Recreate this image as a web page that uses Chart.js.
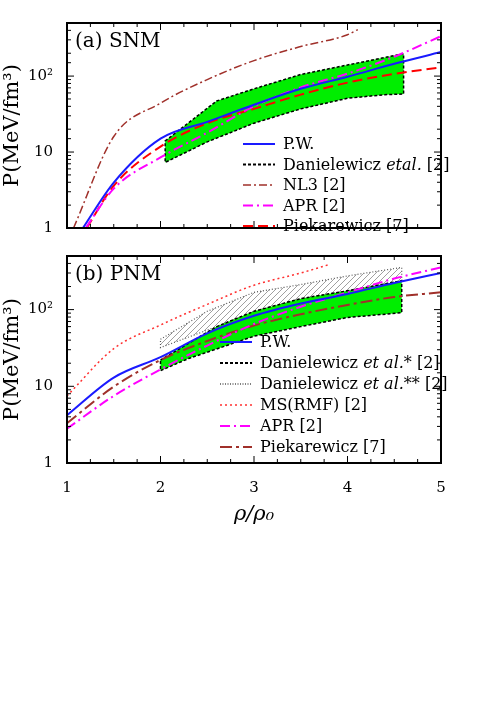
<!DOCTYPE html>
<html><head><meta charset="utf-8">
<script src="https://cdn.jsdelivr.net/npm/chart.js@4"></script>
<style>body{margin:0;background:#fff;width:485px;height:705px;position:relative;overflow:hidden}
canvas{position:absolute;left:0}</style></head>
<body>
<div style="position:absolute;left:0;top:0;width:485px;height:243px"><canvas id="ca"></canvas></div>
<div style="position:absolute;left:0;top:241px;width:485px;height:290px"><canvas id="cb"></canvas></div>
<script>
// ---- Panel (a) SNM ----
const xsGrid = [1, 1.5, 2, 2.5, 3, 3.5, 4, 4.5, 5];
const aPW_x = [1.17, 1.5, 2, 2.5, 3, 3.5, 4, 4.5, 5];
const aPW_y = [1, 3.96, 15, 25, 42, 68, 98, 145, 207];
const aNL3_x = [1.07, 1.5, 2, 2.5, 3, 3.5, 4, 4.11];
const aNL3_y = [1, 16, 44, 90, 160, 245, 350, 410];
const aAPR_x = [1.2, 1.5, 2, 2.5, 3, 3.5, 4, 4.5, 5];
const aAPR_y = [1, 3.3, 8.5, 18, 40, 71, 108, 180, 335];
const aPiek_x = [1.21, 1.5, 2, 2.5, 3, 3.5, 4, 4.5, 5];
const aPiek_y = [1, 3.6, 11.8, 24, 37, 57, 82, 107, 130];
const aBandUp_x = [2.05, 2.6, 3, 3.5, 4, 4.6];
const aBandUp_y = [14, 47, 68, 105, 140, 197];
const aBandLo_x = [2.05, 2.5, 3, 3.5, 4, 4.4, 4.6];
const aBandLo_y = [7.3, 13.6, 24, 37, 51, 57, 58];
// ---- Panel (b) PNM ----
const bPW_x = [1, 1.5, 2, 2.5, 3, 3.5, 4, 4.5, 5];
const bPW_y = [4.2, 13, 24, 49, 83, 120, 160, 222, 300];
const bMS_x = [1, 1.5, 2, 2.5, 3, 3.5, 3.8];
const bMS_y = [7.5, 31, 63, 117, 208, 300, 385];
const bAPR_x = [1, 1.5, 2, 2.5, 3, 3.5, 4, 4.5, 5];
const bAPR_y = [2.8, 7.5, 16.6, 34, 65, 109, 167, 254, 355];
const bPiek_x = [1, 1.5, 2, 2.5, 3, 3.5, 4, 4.5, 5];
const bPiek_y = [3.3, 9.9, 22, 39, 62, 87, 115, 146, 168];
const bBandUp_x = [2, 2.6, 3, 3.5, 4, 4.58];
const bBandUp_y = [22, 60, 95, 139, 176, 238];
const bBandLo_x = [2, 2.3, 3, 3.5, 4, 4.58];
const bBandLo_y = [16, 23, 45, 60, 79, 91];
const bHatchUp_x = [2, 2.5, 3, 3.5, 4, 4.58];
const bHatchUp_y = [41, 95, 168, 212, 275, 355];
const bHatchLo_x = [2, 2.6, 3, 3.5, 4, 4.58];
const bHatchLo_y = [32, 60, 95, 139, 176, 238];
const xTicks = [1, 2, 3, 4, 5];
const yTickLabels = {1: '1', 10: '10', 100: '10²'};

const SERIF = '"DejaVu Serif","Liberation Serif",serif';
const pts = (xs, ys) => xs.map((x, i) => ({x, y: ys[i]}));
const hatch = (() => {
  const c = document.createElement('canvas'); c.width = 6; c.height = 6;
  const g = c.getContext('2d'); g.strokeStyle = '#888'; g.lineWidth = 0.8;
  g.beginPath(); g.moveTo(0, 6); g.lineTo(6, 0); g.moveTo(-1, 1); g.lineTo(1, -1); g.moveTo(5, 7); g.lineTo(7, 5); g.stroke();
  return g.createPattern(c, 'repeat');
})();

function line(label, xs, ys, color, dash, w) {
  return {label, data: pts(xs, ys), borderColor: color, borderDash: dash, borderWidth: w || 1.8,
    pointRadius: 0, tension: 0.4, cubicInterpolationMode: 'monotone', fill: false};
}

const bandPlugin = {
  id: 'bands',
  beforeDatasetsDraw(chart, args, opts) {
    const ctx = chart.ctx, xs = chart.scales.x, ys = chart.scales.y, a = chart.chartArea;
    ctx.save(); ctx.beginPath(); ctx.rect(a.left, a.top, a.right - a.left, a.bottom - a.top); ctx.clip();
    for (const b of opts.bands) {
      const P = [];
      b.ux.forEach((x, i) => P.push([xs.getPixelForValue(x), ys.getPixelForValue(b.uy[i])]));
      for (let i = b.lx.length - 1; i >= 0; i--) P.push([xs.getPixelForValue(b.lx[i]), ys.getPixelForValue(b.ly[i])]);
      ctx.beginPath(); P.forEach((p, i) => i ? ctx.lineTo(p[0], p[1]) : ctx.moveTo(p[0], p[1])); ctx.closePath();
      ctx.fillStyle = b.fill === 'hatch' ? hatch : b.fill; ctx.fill();
      ctx.setLineDash(b.dash); ctx.strokeStyle = b.stroke; ctx.lineWidth = b.lw; ctx.stroke();
    }
    ctx.restore();
  }
};

const framePlugin = {
  id: 'frame',
  afterDraw(chart, args, opts) {
    const ctx = chart.ctx, a = chart.chartArea, xs = chart.scales.x, ys = chart.scales.y;
    ctx.save(); ctx.strokeStyle = '#000'; ctx.setLineDash([]);
    ctx.lineWidth = 1;
    for (let v = 1; v <= 5.001; v += 0.25) {
      const px = xs.getPixelForValue(v), L = Math.abs(v - Math.round(v)) < 1e-6 ? 7 : 4;
      ctx.beginPath(); ctx.moveTo(px, a.bottom); ctx.lineTo(px, a.bottom - L); ctx.moveTo(px, a.top); ctx.lineTo(px, a.top + L); ctx.stroke();
    }
    for (const t of ys.ticks) {
      const py = ys.getPixelForValue(t.value);
      if (py < a.top - 0.5) continue;
      const L = yTickLabels[t.value] ? 7 : 4;
      ctx.beginPath(); ctx.moveTo(a.left, py); ctx.lineTo(a.left + L, py); ctx.moveTo(a.right, py); ctx.lineTo(a.right - L, py); ctx.stroke();
    }
    ctx.lineWidth = 2; ctx.strokeRect(a.left, a.top, a.right - a.left, a.bottom - a.top);
    ctx.fillStyle = '#000'; ctx.font = '20px ' + SERIF; ctx.textBaseline = 'alphabetic';
    ctx.fillText(opts.panel, a.left + 8, a.top + 24);
    // legend
    const L = opts.legend; let y = L.y;
    ctx.font = '16px ' + SERIF;
    for (const it of L.items) {
      ctx.beginPath(); ctx.setLineDash(it.dash); ctx.strokeStyle = it.color; ctx.lineWidth = it.w;
      ctx.moveTo(L.x, y); ctx.lineTo(L.x + 32, y); ctx.stroke();
      ctx.setLineDash([]); ctx.textBaseline = 'middle'; let tx = L.x + 40;
      for (const seg of it.text) {
        ctx.font = (seg[1] ? 'italic ' : '') + '16px ' + SERIF;
        ctx.fillText(seg[0], tx, y + 1); tx += ctx.measureText(seg[0]).width;
      }
      y += L.dy;
    }
    ctx.restore();
  }
};

function makeOptions(showX, panel, bands, legend, padTop) {
  return {
    responsive: true, maintainAspectRatio: false, animation: false,
    layout: {padding: {top: padTop, right: 44, left: 0, bottom: 0}},
    plugins: {legend: {display: false}, tooltip: {enabled: false},
      bands: {bands}, frame: {panel, legend}},
    scales: {
      x: {type: 'linear', min: 1, max: 5, display: showX,
        afterFit: ax => { if (showX) ax.height = 68; },
        grid: {display: false}, border: {display: false},
        afterBuildTicks: ax => { ax.ticks = xTicks.map(v => ({value: v})); },
        ticks: {color: '#000', font: {family: SERIF, size: 15}, padding: 8},
        title: {display: showX, text: 'ρ/ρ₀', color: '#000', font: {family: SERIF, size: 21, style: 'italic'}, padding: {top: 0}}},
      y: {type: 'logarithmic', min: 1, max: 500,
        afterFit: ax => { ax.width = 67; },
        grid: {display: false}, border: {display: false},
        ticks: {color: '#000', font: {family: SERIF, size: 15}, padding: 6, autoSkip: false,
          callback: v => yTickLabels[v] || ''},
        title: {display: true, text: 'P(MeV/fm³)', color: '#000', font: {family: SERIF, size: 21}, padding: 0}}
    }
  };
}

new Chart(document.getElementById('ca'), {
  type: 'line',
  data: {datasets: [
    line('P.W.', aPW_x, aPW_y, '#1a1aff', [], 2),
    line('NL3 [2]', aNL3_x, aNL3_y, '#a0302a', [8, 3, 2, 3], 1.5),
    line('APR [2]', aAPR_x, aAPR_y, '#ff00ff', [10, 4, 2, 4], 2),
    line('Piekarewicz [7]', aPiek_x, aPiek_y, '#ff0000', [10, 5], 2)
  ]},
  options: makeOptions(false, '(a) SNM',
    [{ux: aBandUp_x, uy: aBandUp_y, lx: aBandLo_x, ly: aBandLo_y, fill: '#00ee00', stroke: '#000', dash: [3, 2], lw: 1.5}],
    {x: 243, y: 144, dy: 20.5, items: [
      {color: '#1a1aff', dash: [], w: 2, text: [['P.W.']]},
      {color: '#000', dash: [3, 2], w: 2, text: [['Danielewicz '], ['etal.', 1], [' [2]']]},
      {color: '#a0302a', dash: [8, 3, 2, 3], w: 1.5, text: [['NL3 [2]']]},
      {color: '#ff00ff', dash: [10, 4, 2, 4], w: 2, text: [['APR [2]']]},
      {color: '#ff0000', dash: [10, 5], w: 2, text: [['Piekarewicz [7]']]}
    ]}, 23),
  plugins: [bandPlugin, framePlugin]
});

new Chart(document.getElementById('cb'), {
  type: 'line',
  data: {datasets: [
    line('P.W.', bPW_x, bPW_y, '#1a1aff', [], 2),
    line('MS(RMF) [2]', bMS_x, bMS_y, '#ff3030', [2, 3], 1.5),
    line('APR [2]', bAPR_x, bAPR_y, '#ff00ff', [10, 4, 2, 4], 2),
    line('Piekarewicz [7]', bPiek_x, bPiek_y, '#a0302a', [12, 4, 3, 4], 2)
  ]},
  options: makeOptions(true, '(b) PNM',
    [{ux: bHatchUp_x, uy: bHatchUp_y, lx: bHatchLo_x, ly: bHatchLo_y, fill: 'hatch', stroke: '#555', dash: [1, 2], lw: 1.2},
     {ux: bBandUp_x, uy: bBandUp_y, lx: bBandLo_x, ly: bBandLo_y, fill: '#00ee00', stroke: '#000', dash: [3, 2], lw: 1.5}],
    {x: 220, y: 101, dy: 21, items: [
      {color: '#1a1aff', dash: [], w: 2, text: [['P.W.']]},
      {color: '#000', dash: [3, 2], w: 2, text: [['Danielewicz '], ['et al.', 1], ['* [2]']]},
      {color: '#555', dash: [1, 1.5], w: 1.5, text: [['Danielewicz '], ['et al.', 1], ['** [2]']]},
      {color: '#ff3030', dash: [2, 3], w: 1.5, text: [['MS(RMF) [2]']]},
      {color: '#ff00ff', dash: [10, 4, 2, 4], w: 2, text: [['APR [2]']]},
      {color: '#a0302a', dash: [12, 4, 3, 4], w: 2, text: [['Piekarewicz [7]']]}
    ]}, 1),
  plugins: [bandPlugin, framePlugin]
});
</script>
</body></html>
